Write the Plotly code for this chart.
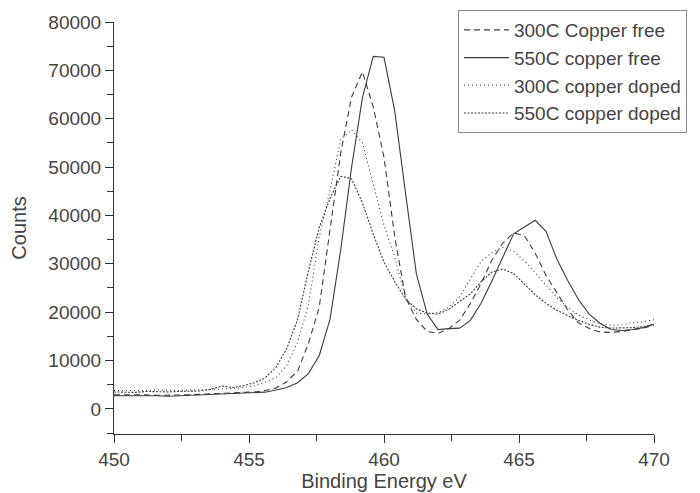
import plotly.graph_objects as go

# binding energy axis (eV), 0.4 eV steps
energy = [450.0, 450.4, 450.8, 451.2, 451.6, 452.0, 452.4, 452.8, 453.2, 453.6,
          454.0, 454.4, 454.8, 455.2, 455.6, 456.0, 456.4, 456.8, 457.2, 457.6,
          458.0, 458.4, 458.8, 459.2, 459.6, 460.0, 460.4, 460.8, 461.2, 461.6,
          462.0, 462.4, 462.8, 463.2, 463.6, 464.0, 464.4, 464.8, 465.2, 465.6,
          466.0, 466.4, 466.8, 467.2, 467.6, 468.0, 468.4, 468.8, 469.2, 469.6,
          470.0]

# 300C Copper free
free_300 = [2900, 2900, 3000, 2900, 2800, 2800, 2900, 2900, 3000, 3100,
            3200, 3300, 3400, 3500, 3800, 4300, 5600, 7800, 13500, 21000,
            37000, 53000, 64500, 69700, 62500, 52000, 35500, 23000, 18500, 16000,
            15600, 16600, 18300, 21800, 26000, 30800, 34300, 36400, 35800, 32200,
            27600, 24000, 20500, 17800, 16600, 15900, 15800, 16000, 16300, 16700,
            17300]

# 550C copper free
free_550 = [2700, 2700, 2800, 2700, 2700, 2600, 2700, 2700, 2800, 2900,
            3000, 3100, 3200, 3350, 3450, 3900, 4400, 5400, 7300, 11000,
            18500, 33000, 50000, 64300, 72900, 72700, 61500, 44500, 27900, 19600,
            16400, 16600, 16700, 18300, 21900, 26500, 31200, 36200, 37600, 39000,
            36700, 31000, 26600, 22600, 19600, 17700, 16400, 16200, 16400, 16800,
            17500]

# 300C copper doped
doped_300 = [3800, 3800, 3700, 3800, 3900, 3800, 3800, 3900, 3900, 4000,
             4100, 4200, 4400, 4800, 5500, 6500, 9000, 13800, 21500, 35500,
             45200, 55800, 57700, 55000, 46300, 38000, 31200, 23000, 19800, 19600,
             19900, 21000, 23200, 27000, 30500, 32300, 33400, 32600, 30600, 28200,
             25500, 23000, 21000, 19400, 18400, 17600, 17300, 17400, 17800, 18000,
             18400]

# 550C copper doped
doped_550 = [3500, 3500, 3400, 3600, 3500, 3500, 3600, 3600, 3700, 4100,
             4700, 4400, 4800, 5400, 6400, 8600, 12500, 18500, 28500, 37500,
             43500, 48100, 47600, 42600, 36200, 30300, 26300, 22700, 20700, 19800,
             19600, 20600, 22200, 23800, 26300, 28300, 28900, 28000, 25800, 23600,
             21800, 20400, 19300, 18300, 17500, 16900, 16700, 16700, 16800, 17000,
             17500]

x_ticks = [450, 455, 460, 465, 470]
y_ticks = [0, 10000, 20000, 30000, 40000, 50000, 60000, 70000, 80000]

line_col = '#3c3c3c'
font_name = 'Liberation Sans, Arial, sans-serif'

fig = go.Figure()
fig.add_trace(go.Scatter(x=energy, y=free_300, mode='lines', name='300C Copper free',
                         line=dict(color=line_col, width=1.1, dash='6px,4px')))
fig.add_trace(go.Scatter(x=energy, y=free_550, mode='lines', name='550C copper free',
                         line=dict(color=line_col, width=1.1)))
fig.add_trace(go.Scatter(x=energy, y=doped_300, mode='lines', name='300C copper doped',
                         line=dict(color=line_col, width=1.1, dash='1px,3px')))
fig.add_trace(go.Scatter(x=energy, y=doped_550, mode='lines', name='550C copper doped',
                         line=dict(color=line_col, width=1.1, dash='2px,1.5px')))

fig.update_layout(
    width=700, height=493,
    margin=dict(l=106, r=54, t=14, b=67, autoexpand=False),
    plot_bgcolor='white', paper_bgcolor='white',
    font=dict(family=font_name, size=19, color='#444'),
    legend=dict(x=0.637, y=1.029, xref='paper', yref='paper', xanchor='left', yanchor='top',
                bordercolor='#888', borderwidth=1, bgcolor='white',
                font=dict(size=19, color='#444'), itemwidth=45, tracegroupgap=0),
    showlegend=True,
)
fig.update_xaxes(range=[450, 470], tickvals=x_ticks, automargin=False,
                 showgrid=False, zeroline=False, showline=True, linecolor='#333', linewidth=1,
                 ticks='outside', ticklen=8, tickcolor='#333',
                 minor=dict(tickvals=[452.5, 457.5, 462.5, 467.5], ticks='outside', ticklen=6, tickcolor='#333'),
                 title=dict(text='Binding Energy eV', font=dict(size=20, color='#444'), standoff=2),
                 tickfont=dict(size=19, color='#444'))
fig.update_yaxes(range=[-5200, 80000], tickvals=y_ticks, tickformat='d', automargin=False,
                 showgrid=False, zeroline=False, showline=True, linecolor='#333', linewidth=1,
                 ticks='outside', ticklen=8, tickcolor='#333',
                 minor=dict(tickvals=[-5000, 5000, 15000, 25000, 35000, 45000, 55000, 65000, 75000],
                            ticks='outside', ticklen=6, tickcolor='#333'),
                 title=dict(text='Counts', font=dict(size=20, color='#444'), standoff=16),
                 tickfont=dict(size=19, color='#444'))

fig.write_html("out.html")
